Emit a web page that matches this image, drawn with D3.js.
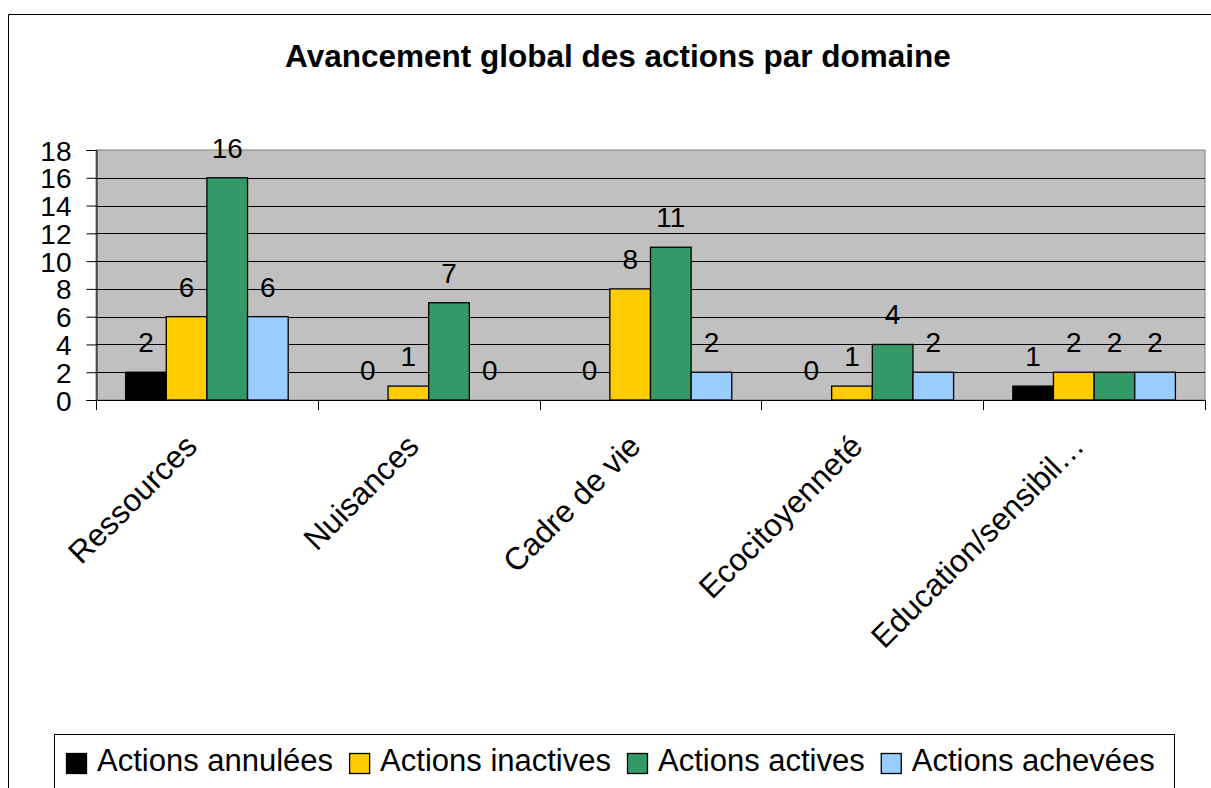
<!doctype html>
<html lang="fr">
<head>
<meta charset="utf-8">
<title>Avancement global des actions par domaine</title>
<style>
  html, body { margin: 0; padding: 0; background: #fff; }
  svg { display: block; font-family: "Liberation Sans", Arial, sans-serif; }
</style>
</head>
<body>
<div id="chart"></div>
<script src="https://d3js.org/d3.v7.min.js"></script>
<script>
// data
var domaines = ["Ressources", "Nuisances", "Cadre de vie", "Ecocitoyenneté", "Education/sensibil…"];
var series = ["Actions annulées", "Actions inactives", "Actions actives", "Actions achevées"];
var annulees = [2, 0, 0, 0, 1];
var inactives = [6, 1, 8, 1, 2];
var actives = [16, 7, 11, 4, 2];
var achevees = [6, 0, 2, 2, 2];
var couleurs = ["#000000", "#ffcc00", "#339966", "#99ccff"];
var yTicks = [0, 2, 4, 6, 8, 10, 12, 14, 16, 18];

var valeurs = [annulees, inactives, actives, achevees];
var rows = [];
domaines.forEach(function(d, i) {
    series.forEach(function(s, j) {
        rows.push({ domaine: d, serie: s, value: valeurs[j][i] });
    });
});

var width = 1211, height = 788;
var plot = { left: 96, right: 1205, top: 150, bottom: 400 };

var svg = d3.select("#chart").append("svg")
    .attr("width", width)
    .attr("height", height);

// cadre du graphique
svg.append("path")
    .attr("d", "M8.5,788 V14.5 H1211")
    .attr("fill", "none")
    .attr("stroke", "#000");

// titre
svg.append("text")
    .attr("x", 618)
    .attr("y", 67)
    .attr("text-anchor", "middle")
    .style("font-size", "31.5px")
    .style("font-weight", "bold")
    .text("Avancement global des actions par domaine");

var x0 = d3.scaleBand()
    .domain(domaines)
    .range([plot.left, plot.right]);

var x1 = d3.scaleBand()
    .domain(series)
    .range([x0.bandwidth() * 0.1335, x0.bandwidth() * 0.8665]);

var y = d3.scaleLinear()
    .domain([0, 18])
    .range([plot.bottom, plot.top]);

var color = d3.scaleOrdinal().domain(series).range(couleurs);

// fond
svg.append("rect")
    .attr("x", plot.left)
    .attr("y", plot.top)
    .attr("width", plot.right - plot.left)
    .attr("height", plot.bottom - plot.top)
    .attr("fill", "#c0c0c0")
    .attr("stroke", "#808080");

// grille
svg.append("g")
    .selectAll("line")
    .data(yTicks.filter(function(t) { return t > 0 && t < 18; }))
    .enter().append("line")
    .attr("x1", plot.left)
    .attr("x2", plot.right)
    .attr("y1", function(d) { return Math.round(y(d)) + 0.5; })
    .attr("y2", function(d) { return Math.round(y(d)) + 0.5; })
    .attr("stroke", "#000");

// axe y
var yAxis = svg.append("g")
    .attr("transform", "translate(" + (plot.left + 0.5) + ",0)")
    .call(d3.axisLeft(y).tickValues(yTicks).tickSize(10).tickPadding(15).tickFormat(d3.format("d")));
yAxis.select(".domain").attr("stroke", "#000");
yAxis.selectAll(".tick line").attr("stroke", "#000");
yAxis.selectAll("text")
    .attr("fill", "#000")
    .style("font-size", "28px")
    .style("font-family", "'Liberation Sans', Arial, sans-serif")
    .attr("dy", "0.36em");

// axe x
svg.append("line")
    .attr("x1", plot.left)
    .attr("x2", plot.right)
    .attr("y1", plot.bottom + 0.5)
    .attr("y2", plot.bottom + 0.5)
    .attr("stroke", "#000");

var bornes = domaines.map(function(d) { return x0(d); }).concat([plot.right]);
svg.append("g")
    .selectAll("line")
    .data(bornes)
    .enter().append("line")
    .attr("x1", function(d) { return Math.round(d) + 0.5; })
    .attr("x2", function(d) { return Math.round(d) + 0.5; })
    .attr("y1", plot.bottom)
    .attr("y2", plot.bottom + 10)
    .attr("stroke", "#000");

svg.append("g")
    .selectAll("text")
    .data(domaines)
    .enter().append("text")
    .attr("transform", function(d) {
        return "translate(" + (x0(d) + x0.bandwidth() / 2 - 8) + "," + (plot.bottom + 48) + ") rotate(-45)";
    })
    .attr("text-anchor", "end")
    .style("font-size", "31.5px")
    .text(function(d) { return d; });

// barres
svg.append("g")
    .selectAll("rect")
    .data(rows.filter(function(r) { return r.value > 0; }))
    .enter().append("rect")
    .attr("x", function(d) { return x0(d.domaine) + x1(d.serie); })
    .attr("y", function(d) { return y(d.value); })
    .attr("width", x1.bandwidth())
    .attr("height", function(d) { return y(0) - y(d.value); })
    .attr("fill", function(d) { return color(d.serie); })
    .attr("stroke", "#000")
    .attr("stroke-width", 1.3);

// etiquettes de valeur
svg.append("g")
    .selectAll("text")
    .data(rows)
    .enter().append("text")
    .attr("x", function(d) { return x0(d.domaine) + x1(d.serie) + x1.bandwidth() / 2; })
    .attr("y", function(d) { return y(d.value) - 20; })
    .attr("text-anchor", "middle")
    .style("font-size", "28px")
    .text(function(d) { return d.value; });

// legende
var legende = svg.append("g");
legende.append("rect")
    .attr("x", 54.5)
    .attr("y", 734.5)
    .attr("width", 1120)
    .attr("height", 100)
    .attr("fill", "#fff")
    .attr("stroke", "#000");

var lx = 66;
series.forEach(function(s) {
    legende.append("rect")
        .attr("x", lx + 0.5)
        .attr("y", 753.5)
        .attr("width", 20)
        .attr("height", 20)
        .attr("fill", color(s))
        .attr("stroke", "#000")
        .attr("stroke-width", 1.3);
    var t = legende.append("text")
        .attr("x", lx + 31)
        .attr("y", 771)
        .style("font-size", "31px")
        .text(s);
    lx = lx + 31 + t.node().getComputedTextLength() + 16;
});
</script>
</body>
</html>
